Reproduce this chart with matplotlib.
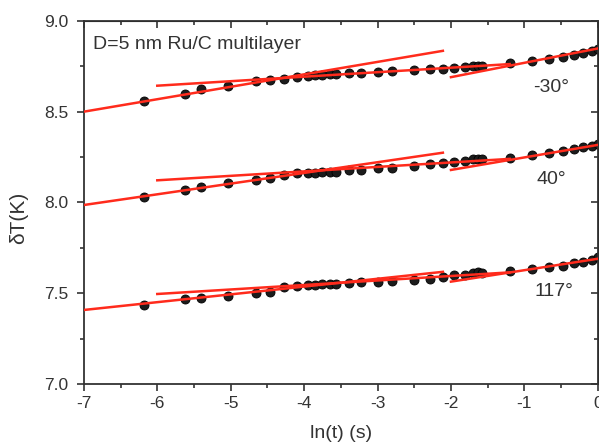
import matplotlib
matplotlib.use("Agg")
import matplotlib.pyplot as plt
from matplotlib.ticker import MultipleLocator

# ==========================================
# DATA
# ==========================================

ln_t = [-6.18, -5.62, -5.41, -5.03, -4.66, -4.47, -4.28, -4.10,
        -3.95, -3.85, -3.75, -3.65, -3.56, -3.39, -3.22, -3.00,
        -2.80, -2.51, -2.29, -2.11, -1.96, -1.81, -1.70, -1.63,
        -1.58, -1.19, -0.90, -0.67, -0.47, -0.33, -0.20, -0.08, 0.00]

dT_m30 = [8.560, 8.596, 8.624, 8.642, 8.670, 8.675, 8.680, 8.690,
          8.695, 8.700, 8.703, 8.705, 8.708, 8.712, 8.715, 8.720,
          8.725, 8.730, 8.734, 8.736, 8.741, 8.748, 8.752, 8.754,
          8.752, 8.770, 8.780, 8.792, 8.800, 8.810, 8.825, 8.835, 8.844]

dT_40 = [8.032, 8.069, 8.087, 8.106, 8.124, 8.133, 8.150, 8.160,
         8.163, 8.165, 8.167, 8.168, 8.170, 8.179, 8.180, 8.188,
         8.192, 8.203, 8.210, 8.216, 8.221, 8.230, 8.238, 8.241,
         8.238, 8.243, 8.262, 8.274, 8.285, 8.295, 8.304, 8.311, 8.322]

dT_117 = [7.435, 7.468, 7.472, 7.485, 7.503, 7.505, 7.536, 7.542,
          7.545, 7.548, 7.550, 7.550, 7.551, 7.558, 7.562, 7.564,
          7.567, 7.573, 7.578, 7.588, 7.600, 7.600, 7.610, 7.615,
          7.612, 7.624, 7.632, 7.643, 7.652, 7.665, 7.671, 7.683, 7.700]

series = [dT_m30, dT_40, dT_117]
angles = ["-30°", "40°", "117°"]
angle_x = [-0.88, -0.83, -0.86]
angle_y = [8.631, 8.124, 7.507]

# linear fits: x range and end values for each series
fit_x0 = [-7.0, -6.0, -2.0]
fit_x1 = [-2.11, -1.2, 0.0]
fit_y0 = [[8.500, 8.643, 8.690],
          [7.986, 8.122, 8.179],
          [7.408, 7.496, 7.564]]
fit_y1 = [[8.835, 8.762, 8.848],
          [8.274, 8.240, 8.317],
          [7.618, 7.615, 7.690]]

# ==========================================
# STYLE
# ==========================================

plt.rcParams["font.family"] = ["Liberation Sans", "DejaVu Sans"]
TEXT = "#333333"
RED = "#ff2b1c"

fig = plt.figure(figsize=(5.99, 4.44), dpi=100)
ax = fig.add_axes([0.140, 0.135, 0.858, 0.818])

for ys, fy0, fy1 in zip(series, fit_y0, fit_y1):
    ax.plot(ln_t, ys, "o", ms=6.5, color="#1c1c1c",
            mec="#000000", mew=0.6, zorder=2)
    for x0, x1, y0, y1 in zip(fit_x0, fit_x1, fy0, fy1):
        ax.plot([x0, x1], [y0, y1], color=RED, lw=1.8, zorder=3)

# angle labels
for txt, xx, yy in zip(angles, angle_x, angle_y):
    ax.text(xx, yy, txt, fontsize=14, color=TEXT, ha="left", va="center")

ax.text(0.018, 0.935, "D=5 nm Ru/C multilayer", transform=ax.transAxes,
        fontsize=14, color=TEXT, ha="left", va="center")

# ==========================================
# AXES
# ==========================================

ax.set_xlim(-7, 0)
ax.set_ylim(7.0, 9.0)
ax.xaxis.set_major_locator(MultipleLocator(1))
ax.xaxis.set_minor_locator(MultipleLocator(0.5))
ax.yaxis.set_major_locator(MultipleLocator(0.5))
ax.yaxis.set_minor_locator(MultipleLocator(0.25))
ax.yaxis.set_major_formatter(plt.FormatStrFormatter("%.1f"))
ax.xaxis.set_major_formatter(plt.FormatStrFormatter("%d"))

ax.tick_params(which="both", direction="out", colors=TEXT,
               labelsize=12.5, width=1.2)
ax.tick_params(which="major", length=5)
ax.tick_params(which="minor", length=3)
ax.tick_params(axis="y", pad=6)

for s in ax.spines.values():
    s.set_color(TEXT)
    s.set_linewidth(1.3)

top = ax.secondary_xaxis("top")
top.xaxis.set_major_locator(MultipleLocator(1))
top.xaxis.set_minor_locator(MultipleLocator(0.5))
top.tick_params(which="both", direction="in", labeltop=False,
                colors=TEXT, width=1.2)
top.tick_params(which="major", length=5)
top.tick_params(which="minor", length=3)

right = ax.secondary_yaxis("right")
right.yaxis.set_major_locator(MultipleLocator(0.5))
right.yaxis.set_minor_locator(MultipleLocator(0.25))
right.tick_params(which="both", direction="in", labelright=False,
                  colors=TEXT, width=1.2)
right.tick_params(which="major", length=5)
right.tick_params(which="minor", length=3)

ax.set_xlabel("ln(t) (s)", fontsize=14, color=TEXT)
ax.set_ylabel("δT(K)", fontsize=15, color=TEXT)
ax.xaxis.set_label_coords(0.5, -0.112)
ax.yaxis.set_label_coords(-0.109, 0.457)

fig.savefig("out.png", dpi=100)
plt.close(fig)
